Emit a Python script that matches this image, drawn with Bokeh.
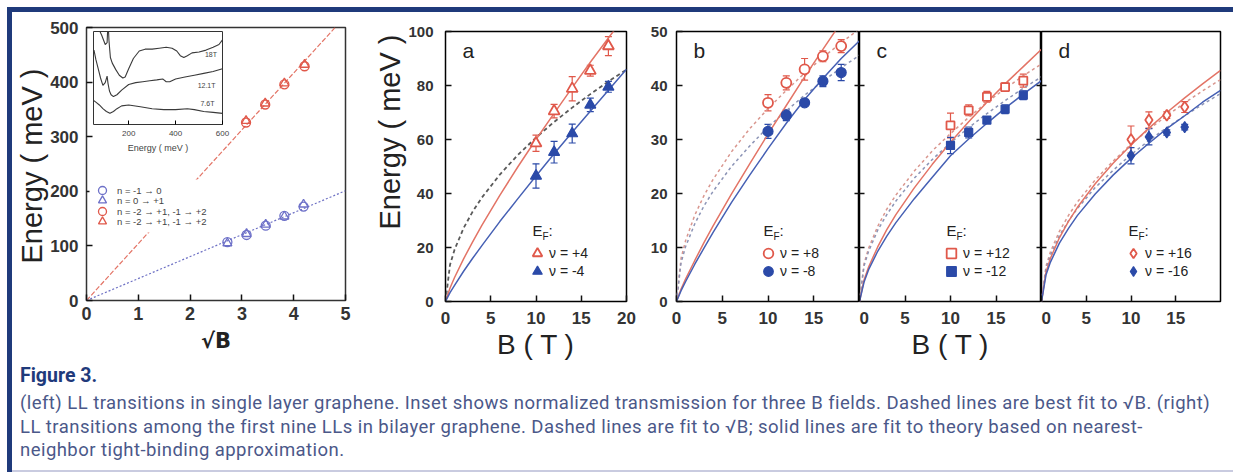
import math
from bokeh.plotting import figure
from bokeh.models import (Range1d, FixedTicker, Legend, LegendItem, Label, Whisker, TeeHead,
                          ColumnDataSource, Div, Spacer, GridBox, CustomJSTickFormatter,
                          LinearAxis, Title, BoxAnnotation)
from bokeh.layouts import row, column
from bokeh.embed import file_html
from bokeh.resources import INLINE

# ---------------- data: single-layer graphene (left) ----------------
sqrtB_blue = [2.72, 3.09, 3.46, 3.82, 4.19]
E_blue_circ = [107, 120, 137, 155, 172]
E_blue_tri = [105, 122, 139, 154, 176]
sqrtB_red = [3.08, 3.45, 3.82, 4.21]
E_red_circ = [326, 359, 396, 429]
E_red_tri = [329, 361, 398, 432]
fit_blue_x = [0, 5]
fit_blue_y = [0, 201]
fit_red_x = [0, 4.8]
fit_red_y = [0, 500]
left_legend = ["n = -1 → 0", "n = 0 → +1", "n = -2 → +1, -1 → +2", "n = -2 → +1, -1 → +2"]

# inset: normalized transmission (arb. units) vs energy (meV)
in18_x = [55, 70, 85, 100, 108, 112, 116, 122, 130, 145, 160, 175, 185, 200, 220, 245, 270, 300,
          330, 360, 385, 405, 420, 435, 450, 470, 500, 530, 560, 585, 600]
in18_y = [112, 104, 96, 86, 88, 112, 90, 72, 66, 59, 53, 50, 51, 60, 71, 79, 81, 81,
          82, 83, 82, 79, 74, 72, 74, 77, 78, 80, 83, 86, 91]
in12_x = [52, 60, 70, 80, 90, 100, 108, 112, 118, 125, 135, 150, 170, 200, 230, 260, 290, 320,
          345, 360, 375, 400, 440, 480, 520, 560, 600]
in12_y = [80, 70, 60, 50, 42, 45, 52, 44, 36, 32, 30, 32, 37, 43, 45, 46, 47, 48,
          49, 46, 46, 49, 51, 53, 55, 57, 60]
in7_x = [50, 60, 75, 90, 105, 120, 135, 150, 170, 200, 250, 300, 350, 400, 450, 480, 520, 560, 600]
in7_y = [26, 24, 21, 17, 14, 12, 14, 17, 20, 21, 19, 17, 16, 16, 17, 16, 14, 13, 12]
inset_labels = ["18T", "12.1T", "7.6T"]

# ---------------- data: bilayer graphene (right) ----------------
B_pts = [10, 12, 14, 16, 18]
B_pts_d = [10, 12, 14, 16]
B_fit = [0, 0.5, 1, 2, 3, 4, 6, 8, 10, 12, 14, 16, 18, 20]

a_pos = [58.6, 70.5, 78.8, 85.5, 94.6]
a_pos_err = [3.0, 2.5, 4.5, 2.0, 3.5]
a_neg = [46.5, 55.3, 62.2, 72.8, 79.5]
a_neg_err = [4.5, 4.0, 3.5, 2.5, 2.0]
a_dash = [0, 13.6, 19.2, 27.2, 33.3, 38.4, 47.0, 54.3, 60.7, 66.5, 71.8, 76.8, 81.5, 85.9]
a_sol_pos = [0, 5.0, 8.9, 15.8, 22.1, 28.1, 39.3, 49.9, 60.0, 69.7, 79.2, 88.6, 97.6, 106.5]
a_sol_neg = [0, 3.3, 6.0, 11.2, 16.0, 20.6, 29.6, 38.1, 46.5, 54.7, 62.7, 70.5, 78.2, 86.0]

b_pos = [36.8, 40.5, 43.0, 45.4, 47.3]
b_pos_err = [1.5, 1.3, 2.0, 1.0, 1.2]
b_neg = [31.5, 34.5, 36.8, 40.8, 42.4]
b_neg_err = [1.3, 1.0, 0.5, 1.0, 1.5]
b_dash_pos = [0, 8.0, 11.3, 16.0, 19.6, 22.6, 27.7, 32.0, 35.7, 39.1, 42.3, 45.2, 47.9, 50.5]
b_dash_neg = [0, 7.2, 10.2, 14.4, 17.7, 20.4, 25.0, 28.8, 32.3, 35.3, 38.2, 40.8, 43.3, 45.6]
b_sol_pos = [0, 2.3, 4.2, 7.6, 10.9, 14.0, 19.9, 25.5, 31.0, 36.3, 41.6, 46.7, 51.7, 56.7]
b_sol_neg = [0, 2.0, 3.7, 6.9, 9.9, 12.8, 18.3, 23.4, 28.3, 33.0, 37.4, 41.3, 45.0, 48.3]

c_pos = [32.6, 35.4, 37.9, 39.7, 40.9]
c_pos_err = [2.3, 1.0, 1.0, 0.8, 1.2]
c_neg = [28.9, 31.3, 33.6, 35.6, 38.2]
c_neg_err = [1.5, 1.0, 0.5, 0.8, 0.8]
c_dash_pos = [0, 7.0, 9.85, 13.9, 17.1, 19.7, 24.1, 27.9, 31.1, 34.1, 36.9, 39.4, 41.8, 44.0]
c_dash_neg = [0, 6.6, 9.3, 13.2, 16.1, 18.6, 22.8, 26.3, 29.4, 32.2, 34.8, 37.2, 39.5, 41.6]
c_sol_pos = [0, 4.0, 6.4, 10.1, 13.3, 16.1, 21.0, 25.4, 29.5, 33.3, 36.9, 40.3, 43.5, 46.7]
c_sol_neg = [0, 3.6, 5.9, 9.3, 12.1, 14.6, 19.0, 23.0, 27.0, 30.1, 33.0, 35.8, 38.4, 40.9]

d_pos = [30.0, 33.6, 34.5, 36.0]
d_pos_err = [2.5, 1.5, 0.6, 1.0]
d_neg = [27.0, 30.5, 31.3, 32.3]
d_neg_err = [1.5, 1.5, 0.5, 0.5]
d_dash_pos = [0, 6.5, 9.2, 13.0, 15.9, 18.4, 22.5, 26.0, 29.1, 31.9, 34.4, 36.8, 39.0, 41.1]
d_dash_neg = [0, 6.1, 8.6, 12.2, 14.9, 17.2, 21.1, 24.3, 27.2, 29.8, 32.2, 34.4, 36.5, 38.5]
d_sol_pos = [0, 5.4, 8.0, 11.8, 14.8, 17.4, 21.8, 25.6, 29.0, 32.1, 35.0, 37.7, 40.3, 42.8]
d_sol_neg = [0, 4.9, 7.3, 10.8, 13.5, 15.9, 19.9, 23.4, 26.5, 29.3, 32.0, 34.4, 36.9, 39.1]

panel_letters = ["a", "b", "c", "d"]
nu_labels = [("ν = +4", "ν = -4"), ("ν = +8", "ν = -8"), ("ν = +12", "ν = -12"), ("ν = +16", "ν = -16")]
caption_title = "Figure 3."
caption_lines = [
    "(left) LL transitions in single layer graphene. Inset shows normalized transmission for three B fields. Dashed lines are best fit to √B. (right)",
    "LL transitions among the first nine LLs in bilayer graphene. Dashed lines are fit to √B; solid lines are fit to theory based on nearest-",
    "neighbor tight-binding approximation.",
]

# ---------------- styles ----------------
FONT = "Liberation Sans"
RED = "#e0584a"
BLUE = "#2b4aa8"
RED_L = "#e37466"
BLUE_L = "#4660b4"
RED_D = "#d9968e"
BLUE_D = "#8c94b6"
NAVY = "#1f3a7b"


def make_fig(w, h, xr, yr, bl, br, bt, bb):
    p = figure(width=w, height=h, x_range=Range1d(*xr), y_range=Range1d(*yr),
               output_backend="svg", toolbar_location=None, title=None,
               min_border_left=bl, min_border_right=br, min_border_top=bt, min_border_bottom=bb)
    p.grid.visible = False
    p.outline_line_color = "black"
    p.outline_line_width = 1.5
    p.border_fill_color = "white"
    return p


def style_axis(ax, ticks, size=None, standoff=8, tick_len=6):
    ax.ticker = FixedTicker(ticks=ticks)
    ax.major_tick_in = tick_len
    ax.major_tick_out = 0
    ax.minor_tick_line_color = None
    ax.axis_line_color = None
    ax.major_tick_line_color = "#111111"
    ax.major_tick_line_width = 1.5
    if size is None:
        ax.major_label_text_font_size = "0px"
        ax.major_label_standoff = 0
        ax.formatter = CustomJSTickFormatter(code="return ''")
    else:
        ax.major_label_text_font = FONT
        ax.major_label_text_font_size = f"{size}px"
        ax.major_label_text_font_style = "bold"
        ax.major_label_text_color = "#333333"
        ax.major_label_standoff = standoff


def y_title(p, text, offset):
    p.add_layout(Title(text=text, align="left", offset=offset, standoff=0,
                       text_font=FONT, text_font_size="29px", text_font_style="normal",
                       text_color="#222222"), "left")


def one_item_legend(p, label, renderer, vx, vy, gsize, fsize, standoff, color):
    p.add_layout(Legend(items=[LegendItem(label=label, renderers=[renderer])],
                        location=(vx, vy), glyph_width=gsize, glyph_height=gsize,
                        label_height=gsize, padding=0, margin=0, spacing=0,
                        label_standoff=standoff, label_text_font=FONT,
                        label_text_font_size=f"{fsize}px", label_text_color=color,
                        border_line_color=None, background_fill_alpha=0))


ROW_H = 350

# ---------------- left panel ----------------
pL = make_fig(348, ROW_H, (0, 5), (0, 500), 74, 15, 15, 62)
pL.outline_line_color = "#333333"
style_axis(pL.yaxis[0], [0, 100, 200, 300, 400, 500], 17, 8)
style_axis(pL.xaxis[0], [0, 1, 2, 3, 4, 5], 18, 6)
pL.xaxis.axis_label = "√B"
pL.xaxis.axis_label_text_font = "DejaVu Sans"
pL.xaxis.axis_label_text_font_style = "bold"
pL.xaxis.axis_label_text_font_size = "21px"
pL.xaxis.axis_label_text_color = "#222222"
pL.xaxis.axis_label_standoff = 6
y_title(pL, "Energy ( meV )", 37)

pL.line(fit_red_x, fit_red_y, line_color=RED_L, line_width=1.2, line_dash="5 2")
pL.line(fit_blue_x, fit_blue_y, line_color="#6d70c4", line_width=1.2, line_dash="2 2")
r_bc = pL.scatter(sqrtB_blue, E_blue_circ, marker="circle", size=9, fill_color=None,
                  line_color="#6d70c8", line_width=1.3)
r_bt = pL.scatter(sqrtB_blue, E_blue_tri, marker="triangle", size=9, fill_color=None,
                  line_color="#6d70c8", line_width=1.3)
r_rc = pL.scatter(sqrtB_red, E_red_circ, marker="circle", size=9, fill_color=None,
                  line_color=RED, line_width=1.3)
r_rt = pL.scatter(sqrtB_red, E_red_tri, marker="triangle", size=9, fill_color=None,
                  line_color=RED, line_width=1.3)
# white key background, then one row per entry (rows ~10.5 px apart)
pL.add_layout(BoxAnnotation(left=3, right=128, bottom=68, top=121, left_units="screen",
                            right_units="screen", bottom_units="screen", top_units="screen",
                            fill_color="white", fill_alpha=1.0, line_color=None))
for (lab, rr), vy in zip(zip(left_legend, [r_bc, r_bt, r_rc, r_rt]), [100, 90, 79, 69]):
    one_item_legend(pL, lab, rr, 6, vy, 20, 9.5, 5, "#444444")

# inset
pin = figure(width=146, height=157, x_range=Range1d(50, 600), y_range=Range1d(0, 100),
             output_backend="svg", toolbar_location=None, title=None,
             min_border_left=2, min_border_right=12, min_border_top=2, min_border_bottom=38)
pin.grid.visible = False
pin.yaxis.visible = False
pin.outline_line_color = "#333333"
pin.outline_line_width = 1
pin.background_fill_alpha = 0
pin.border_fill_alpha = 0
ax = pin.xaxis[0]
ax.ticker = FixedTicker(ticks=[200, 400, 600])
ax.major_tick_in = 4
ax.major_tick_out = 0
ax.minor_tick_line_color = None
ax.axis_line_color = None
ax.major_label_text_font = FONT
ax.major_label_text_font_size = "8px"
ax.major_label_text_color = "#444444"
ax.major_label_standoff = 6
ax.axis_label = "Energy ( meV )"
ax.axis_label_text_font = FONT
ax.axis_label_text_font_size = "9px"
ax.axis_label_text_font_style = "normal"
ax.axis_label_text_color = "#444444"
ax.axis_label_standoff = 4
for xs, ys in ((in18_x, in18_y), (in12_x, in12_y), (in7_x, in7_y)):
    pin.line(xs, ys, line_color="#3a3a3a", line_width=1.1)
for txt, (lx, ly) in zip(inset_labels, [(525, 71), (494, 38), (506, 19)]):
    pin.add_layout(Label(x=lx, y=ly, text=txt, text_font=FONT, text_font_size="7px",
                         text_color="#444444"))

left_block = GridBox(children=[(pL, 0, 0, 2, 2), (pin, 1, 1)],
                     rows=["17px", "auto"], cols=["79px", "auto"], spacing=0)


# ---------------- right panels ----------------
def add_panel(p, letter, pos, pos_err, neg, neg_err, Bp, dash_pos, dash_neg, sol_pos, sol_neg,
              marker, labels, single_dash=False):
    if single_dash:
        p.line(B_fit, dash_pos, line_color="#5a5a5a", line_width=1.8, line_dash="4 3")
    else:
        p.line(B_fit, dash_pos, line_color=RED_D, line_width=1.5, line_dash="3 3")
        p.line(B_fit, dash_neg, line_color=BLUE_D, line_width=1.5, line_dash="3 3")
    p.line(B_fit, sol_pos, line_color=RED_L, line_width=1.5)
    p.line(B_fit, sol_neg, line_color=BLUE_L, line_width=1.5)
    msize = {"triangle": 11, "circle": 10, "square": 8, "diamond": 11}[marker]
    src_p = ColumnDataSource(dict(x=Bp, y=pos, hi=[v + e for v, e in zip(pos, pos_err)],
                                  lo=[v - e for v, e in zip(pos, pos_err)]))
    src_n = ColumnDataSource(dict(x=Bp, y=neg, hi=[v + e for v, e in zip(neg, neg_err)],
                                  lo=[v - e for v, e in zip(neg, neg_err)]))
    for src, col in ((src_p, RED), (src_n, BLUE)):
        p.add_layout(Whisker(source=src, base="x", upper="hi", lower="lo", line_color=col,
                             line_width=1.2,
                             upper_head=TeeHead(size=7, line_color=col, line_width=1.2),
                             lower_head=TeeHead(size=7, line_color=col, line_width=1.2)))
    rp = p.scatter("x", "y", source=src_p, marker=marker, size=msize, fill_color="white",
                   line_color=RED, line_width=1.8)
    rn = p.scatter("x", "y", source=src_n, marker=marker, size=msize, fill_color=BLUE,
                   line_color=BLUE, line_width=1.2)
    one_item_legend(p, labels[0], rp, 80, 36, 24, 14, 0, "#222222")
    one_item_legend(p, labels[1], rn, 80, 18, 24, 14, 0, "#222222")
    fh = ROW_H - 19 - 60
    p.add_layout(Label(x=17, y=fh - 31, x_units="screen", y_units="screen", text=letter,
                       text_font=FONT, text_font_size="21px", text_color="#222222"))
    p.add_layout(Label(x=87, y=63, x_units="screen", y_units="screen", text="E",
                       text_font=FONT, text_font_size="15px", text_color="#222222"))
    p.add_layout(Label(x=97, y=60, x_units="screen", y_units="screen", text="F",
                       text_font=FONT, text_font_size="10px", text_color="#222222"))
    p.add_layout(Label(x=103, y=63, x_units="screen", y_units="screen", text=":",
                       text_font=FONT, text_font_size="15px", text_color="#222222"))


def bt_label(ax, text):
    ax.axis_label = text
    ax.axis_label_text_font = FONT
    ax.axis_label_text_font_size = "28px"
    ax.axis_label_text_font_style = "normal"
    ax.axis_label_text_color = "#222222"
    ax.axis_label_standoff = 2


pa = make_fig(280, ROW_H, (0, 20), (0, 100), 85, 14, 19, 60)
style_axis(pa.yaxis[0], [0, 20, 40, 60, 80, 100], 15, 12)
style_axis(pa.xaxis[0], [0, 5, 10, 15, 20], 17, 10)
bt_label(pa.xaxis[0], "B ( T )")
y_title(pa, "Energy ( meV )", 72)
add_panel(pa, panel_letters[0], a_pos, a_pos_err, a_neg, a_neg_err, B_pts, a_dash, None,
          a_sol_pos, a_sol_neg, "triangle", nu_labels[0], single_dash=True)

pb = make_fig(219, ROW_H, (0, 20), (0, 50), 36, 0, 19, 60)
style_axis(pb.yaxis[0], [0, 10, 20, 30, 40, 50], 15, 9)
style_axis(pb.xaxis[0], [0, 5, 10, 15], 17, 10)
rb = LinearAxis()
pb.add_layout(rb, "right")
style_axis(rb, [10, 20, 30, 40], None, tick_len=5)
add_panel(pb, panel_letters[1], b_pos, b_pos_err, b_neg, b_neg_err, B_pts, b_dash_pos, b_dash_neg,
          b_sol_pos, b_sol_neg, "circle", nu_labels[1])

pc = make_fig(182, ROW_H, (0, 20), (0, 50), 0, 0, 19, 60)
style_axis(pc.yaxis[0], [10, 20, 30, 40], None, tick_len=5)
style_axis(pc.xaxis[0], [0, 5, 10, 15], 17, 10)
bt_label(pc.xaxis[0], "B ( T )")
rc = LinearAxis()
pc.add_layout(rc, "right")
style_axis(rc, [10, 20, 30, 40], None, tick_len=5)
add_panel(pc, panel_letters[2], c_pos, c_pos_err, c_neg, c_neg_err, B_pts, c_dash_pos, c_dash_neg,
          c_sol_pos, c_sol_neg, "square", nu_labels[2])

pd_ = make_fig(192, ROW_H, (0, 20), (0, 50), 0, 13, 19, 60)
style_axis(pd_.yaxis[0], [10, 20, 30, 40], None, tick_len=5)
style_axis(pd_.xaxis[0], [0, 5, 10, 15], 17, 10)
add_panel(pd_, panel_letters[3], d_pos, d_pos_err, d_neg, d_neg_err, B_pts_d, d_dash_pos, d_dash_neg,
          d_sol_pos, d_sol_neg, "diamond", nu_labels[3])

plots_row = row(left_block, pa, pb, pc, pd_, spacing=0)

caption_html = (
    '<div style="font-family:Roboto, sans-serif; padding-left:8px; white-space:nowrap;">'
    f'<div style="font-weight:700; font-size:19.5px; color:{NAVY}; line-height:22px; margin-top:3px;">{caption_title}</div>'
    '<div style="font-size:18.5px; letter-spacing:0.45px; color:#4b5889; line-height:23.5px; margin-top:5px;">'
    + "<br>".join(caption_lines) + '</div></div>'
)
caption = Div(text=caption_html, width=1221, height=108, margin=0)
bottom_line = Div(text="", width=1221, height=2, margin=0, styles={"background-color": "#c9cbe0"})
content = column(plots_row, caption, bottom_line, spacing=0)

top_bar = Div(text="", width=1226, height=5, margin=0, styles={"background-color": NAVY})
left_bar = Div(text="", width=5, height=460, margin=0, styles={"background-color": NAVY})

page = column(
    Spacer(width=1233, height=7),
    row(Spacer(width=7, height=5), top_bar, spacing=0),
    row(Spacer(width=7, height=460), left_bar, content, spacing=0),
    spacing=0,
)

open("out.html", "w").write(file_html(page, INLINE))
